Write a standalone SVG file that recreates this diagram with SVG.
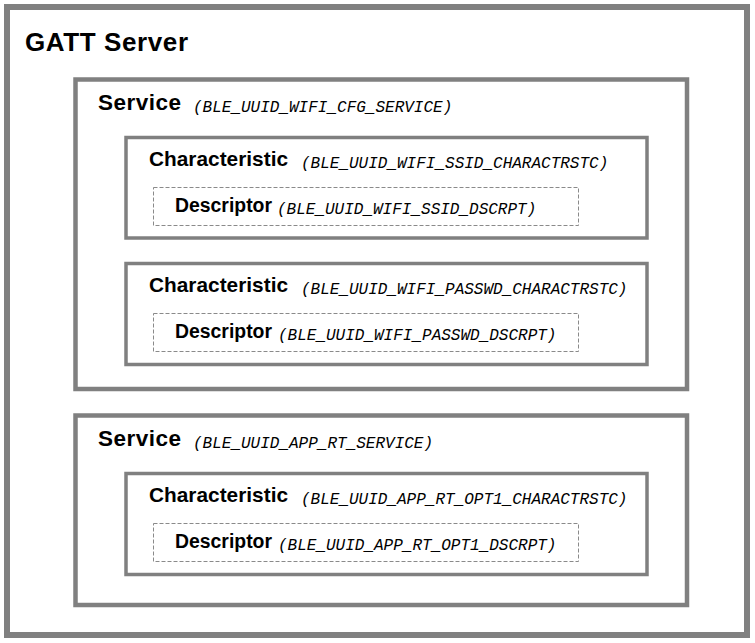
<svg xmlns="http://www.w3.org/2000/svg" width="755" height="643" viewBox="0 0 755 643">
<style>
.outer{fill:#fff;stroke:#808080;stroke-width:6}
.svc{fill:#fff;stroke:#808080;stroke-width:4.5}
.chr{fill:#fff;stroke:#808080;stroke-width:3.5}
.dsc{fill:#fff;stroke:#8a8a8a;stroke-width:1;stroke-dasharray:4 2}
.b{font-family:"Liberation Sans",Arial,sans-serif;font-weight:bold;fill:#000}
.m{font-family:"Liberation Mono","Courier New",monospace;font-style:italic;font-size:16px;fill:#000}
</style>
<rect width="755" height="643" fill="#fff"/>
<g id="gatt-server">
<rect class="outer" x="7" y="7" width="740" height="628"/>
<text class="b" x="25" y="51" font-size="26" textLength="163" lengthAdjust="spacing">GATT Server</text>
</g>
<g id="service1">
<rect class="svc" x="75.5" y="79.5" width="611.5" height="309.5"/>
<text class="b" x="98" y="110" font-size="22.5" textLength="83" lengthAdjust="spacing">Service</text>
<text class="m" x="193" y="112">(BLE_UUID_WIFI_CFG_SERVICE)</text>
</g>
<g id="char1">
<rect class="chr" x="126" y="137.5" width="521" height="100.5"/>
<text class="b" x="149" y="166" font-size="20.8" textLength="139" lengthAdjust="spacing">Characteristic</text>
<text class="m" x="301" y="168">(BLE_UUID_WIFI_SSID_CHARACTRSTC)</text>
</g>
<g id="desc1">
<rect class="dsc" x="153.5" y="187.5" width="425" height="38"/>
<text class="b" x="175" y="212" font-size="19.4" textLength="97" lengthAdjust="spacing">Descriptor</text>
<text class="m" x="277" y="214">(BLE_UUID_WIFI_SSID_DSCRPT)</text>
</g>
<g id="char2">
<rect class="chr" x="126" y="263.5" width="521" height="101"/>
<text class="b" x="149" y="292" font-size="20.8" textLength="139" lengthAdjust="spacing">Characteristic</text>
<text class="m" x="301" y="294">(BLE_UUID_WIFI_PASSWD_CHARACTRSTC)</text>
</g>
<g id="desc2">
<rect class="dsc" x="153.5" y="313.5" width="425" height="38"/>
<text class="b" x="175" y="338" font-size="19.4" textLength="97" lengthAdjust="spacing">Descriptor</text>
<text class="m" x="278" y="340">(BLE_UUID_WIFI_PASSWD_DSCRPT)</text>
</g>
<g id="service2">
<rect class="svc" x="75.5" y="415.5" width="611.5" height="189.5"/>
<text class="b" x="98" y="446" font-size="22.5" textLength="83" lengthAdjust="spacing">Service</text>
<text class="m" x="193" y="448">(BLE_UUID_APP_RT_SERVICE)</text>
</g>
<g id="char3">
<rect class="chr" x="126" y="473.5" width="521" height="101"/>
<text class="b" x="149" y="502" font-size="20.8" textLength="139" lengthAdjust="spacing">Characteristic</text>
<text class="m" x="301" y="504">(BLE_UUID_APP_RT_OPT1_CHARACTRSTC)</text>
</g>
<g id="desc3">
<rect class="dsc" x="153.5" y="523.5" width="425" height="38"/>
<text class="b" x="175" y="548" font-size="19.4" textLength="97" lengthAdjust="spacing">Descriptor</text>
<text class="m" x="278" y="550">(BLE_UUID_APP_RT_OPT1_DSCRPT)</text>
</g>
<g id="connectors"></g>
</svg>
